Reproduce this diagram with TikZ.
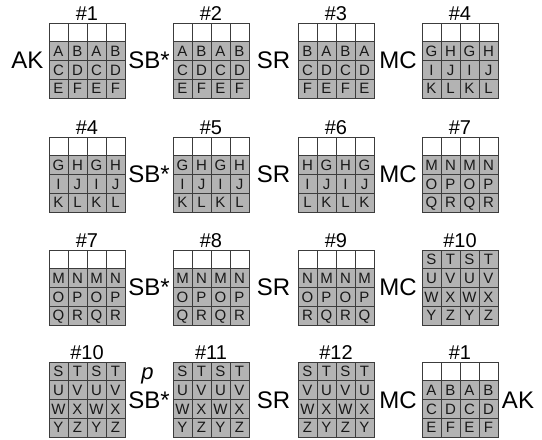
\documentclass[tikz,border=0pt]{standalone}
\usepackage{fontspec}
\setmainfont{Liberation Sans}
\definecolor{cellgray}{RGB}{179,179,179}
\definecolor{gridline}{RGB}{60,60,60}
\definecolor{celltext}{RGB}{25,25,25}
\tikzset{
  gcell/.style={draw=gridline, line width=0.9pt, fill=cellgray, minimum width=19pt,
    minimum height=18.75pt, inner sep=0pt, text=celltext, text height=10.7pt, text depth=0pt,
    font=\fontsize{15}{15}\selectfont},
  wcell/.style={gcell, fill=white},
  gtitle/.style={anchor=base, inner sep=0pt, font=\fontsize{20}{20}\selectfont},
  oplabel/.style={inner sep=0pt, font=\fontsize{24}{24}\selectfont},
}
\newcommand{\cellgrid}[6]{%
  \node[gtitle] (#1t) at ({#2+38},{#3-3}) {#4};
  \ifnum#5=1
    \foreach \j in {0,...,3} {\node[wcell] (#1-0-\j) at ({#2+9.5+19*\j},{#3+9.375}) {};}
  \fi
  \foreach \ca/\cb/\cc/\cd [count=\i from #5] in {#6} {
    \node[gcell] (#1-\i-0) at ({#2+9.5},{#3+9.375+18.75*\i}) {\ca};
    \node[gcell] (#1-\i-1) at ({#2+28.5},{#3+9.375+18.75*\i}) {\cb};
    \node[gcell] (#1-\i-2) at ({#2+47.5},{#3+9.375+18.75*\i}) {\cc};
    \node[gcell] (#1-\i-3) at ({#2+66.5},{#3+9.375+18.75*\i}) {\cd};
  }
}
\begin{document}
\begin{tikzpicture}[x=1pt,y=-1pt]
  \useasboundingbox (0,0) rectangle (542,440);
  % row 1
  \cellgrid{ga}{49}{23}{\#1}{1}{A/B/A/B,C/D/C/D,E/F/E/F}
  \cellgrid{gb}{173}{23}{\#2}{1}{A/B/A/B,C/D/C/D,E/F/E/F}
  \cellgrid{gc}{298}{23}{\#3}{1}{B/A/B/A,C/D/C/D,F/E/F/E}
  \cellgrid{gd}{422}{23}{\#4}{1}{G/H/G/H,I/J/I/J,K/L/K/L}
  \node[oplabel] (la1) at (27.5,60.5) {AK};
  \node[oplabel] (lb1) at (149,60.5) {SB*};
  \node[oplabel] (lc1) at (273.5,60.5) {SR};
  \node[oplabel] (ld1) at (398,60.5) {MC};
  % row 2
  \cellgrid{ge}{49}{137}{\#4}{1}{G/H/G/H,I/J/I/J,K/L/K/L}
  \cellgrid{gf}{173}{137}{\#5}{1}{G/H/G/H,I/J/I/J,K/L/K/L}
  \cellgrid{gg}{298}{137}{\#6}{1}{H/G/H/G,I/J/I/J,L/K/L/K}
  \cellgrid{gh}{422}{137}{\#7}{1}{M/N/M/N,O/P/O/P,Q/R/Q/R}
  \node[oplabel] (lb2) at (149,174) {SB*};
  \node[oplabel] (lc2) at (273.5,174) {SR};
  \node[oplabel] (ld2) at (398,174) {MC};
  % row 3
  \cellgrid{gi}{49}{250}{\#7}{1}{M/N/M/N,O/P/O/P,Q/R/Q/R}
  \cellgrid{gj}{173}{250}{\#8}{1}{M/N/M/N,O/P/O/P,Q/R/Q/R}
  \cellgrid{gk}{298}{250}{\#9}{1}{N/M/N/M,O/P/O/P,R/Q/R/Q}
  \cellgrid{gl}{422}{250}{\#10}{0}{S/T/S/T,U/V/U/V,W/X/W/X,Y/Z/Y/Z}
  \node[oplabel] (lb3) at (149,287) {SB*};
  \node[oplabel] (lc3) at (273.5,287) {SR};
  \node[oplabel] (ld3) at (398,287) {MC};
  % row 4
  \cellgrid{gm}{49}{362}{\#10}{0}{S/T/S/T,U/V/U/V,W/X/W/X,Y/Z/Y/Z}
  \cellgrid{gn}{173}{362}{\#11}{0}{S/T/S/T,U/V/U/V,W/X/W/X,Y/Z/Y/Z}
  \cellgrid{go}{298}{362}{\#12}{0}{S/T/S/T,V/U/V/U,W/X/W/X,Z/Y/Z/Y}
  \cellgrid{gp}{422}{362}{\#1}{1}{A/B/A/B,C/D/C/D,E/F/E/F}
  \node[oplabel, anchor=base, font=\fontsize{22}{22}\selectfont\itshape] (lp4) at (147.5,379) {p};
  \node[oplabel] (lb4) at (149,400) {SB*};
  \node[oplabel] (lc4) at (273.5,400) {SR};
  \node[oplabel] (ld4) at (398,400) {MC};
  \node[oplabel] (le4) at (518,400) {AK};
\end{tikzpicture}
\end{document}
